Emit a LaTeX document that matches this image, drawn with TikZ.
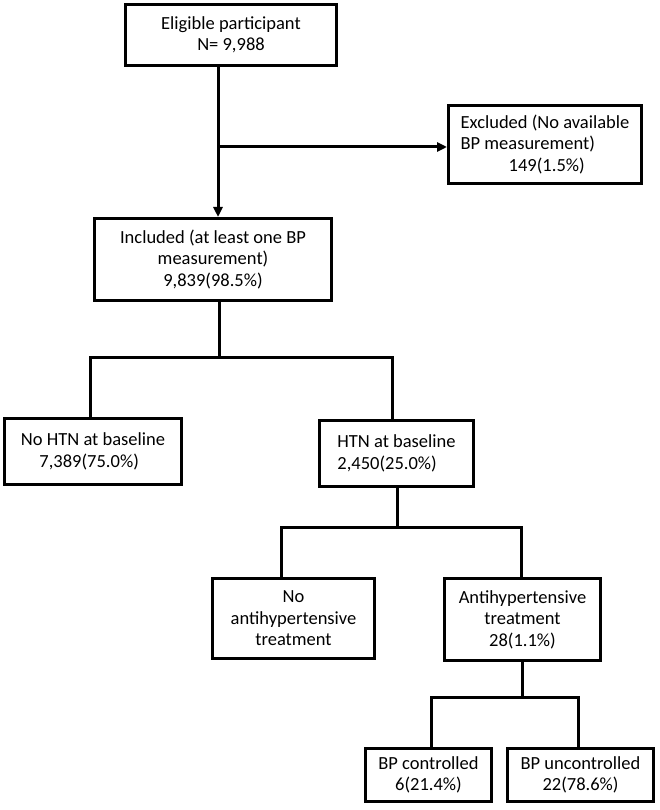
\documentclass[tikz,border=0pt]{standalone}
\usepackage{fontspec}
\setmainfont{Carlito}
\usetikzlibrary{arrows.meta}

\begin{document}
\begin{tikzpicture}[x=1pt,y=-1pt,>={Triangle[length=10pt,width=9pt]},
  box/.style={draw,line width=3pt,inner sep=0pt,align=center,font=\fontsize{18.5}{21.5}\selectfont},
  link/.style={line width=3pt}]
\useasboundingbox (0,0) rectangle (660,810);
% boxes
\node[box,minimum width=211pt,minimum height=61pt] (elig) at (231,35) {Eligible participant\\N= 9,988};
\node[box,align=left,minimum width=193pt,minimum height=78pt] (excl) at (545,144.5) {Excluded (No available\\BP measurement)\\\hspace*{2.6em}149(1.5\%)};
\node[box,minimum width=237pt,minimum height=82pt] (incl) at (213,259.5) {Included (at least one BP\\measurement)\\9,839(98.5\%)};
\node[box,align=left,minimum width=177pt,minimum height=66pt] (nohtn) at (93,451.5) {No HTN at baseline\\\hspace*{1em}7,389(75.0\%)};
\node[box,align=left,minimum width=154pt,minimum height=66pt] (htn) at (396.5,453.5) {HTN at baseline\\2,450(25.0\%)};
\node[box,minimum width=162pt,minimum height=80pt] (noanti) at (293.5,618.5) {No\\antihypertensive\\treatment};
\node[box,minimum width=156pt,minimum height=82pt] (anti) at (522.5,619.5) {Antihypertensive\\treatment\\28(1.1\%)};
\node[box,minimum width=126pt,minimum height=53pt] (bpc) at (428.5,775) {BP controlled\\6(21.4\%)};
\node[box,minimum width=146pt,minimum height=53pt] (bpu) at (580.5,775) {BP uncontrolled\\22(78.6\%)};
% junctions
\coordinate (j1) at (218,147);
\coordinate (j2) at (219,357);
\coordinate (j2l) at (90,357);
\coordinate (j2r) at (392,357);
\coordinate (j3) at (397,527);
\coordinate (j3l) at (281,527);
\coordinate (j3r) at (521,527);
\coordinate (j4) at (522,697);
\coordinate (j4l) at (431,697);
\coordinate (j4r) at (578,697);
% connectors
\draw[link,->] (elig.south -| j1) -- (incl.north -| j1);
\draw[link,->] (j1) -- (excl.west |- j1);
\draw[link] (incl.south -| j2) -- (j2);
\draw[link] (nohtn.north -| j2l) -- (j2l) -- (j2r) -- (htn.north -| j2r);
\draw[link] (htn.south -| j3) -- (j3);
\draw[link] (noanti.north -| j3l) -- (j3l) -- (j3r) -- (anti.north -| j3r);
\draw[link] (anti.south -| j4) -- (j4);
\draw[link] (bpc.north -| j4l) -- (j4l) -- (j4r) -- (bpu.north -| j4r);
\end{tikzpicture}
\end{document}
